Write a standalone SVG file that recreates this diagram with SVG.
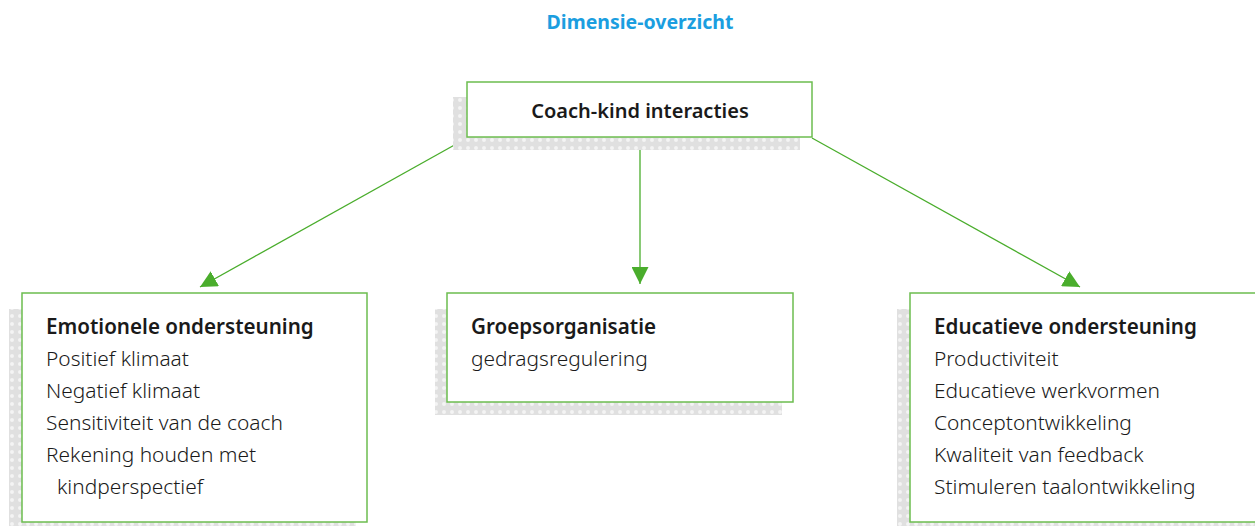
<svg xmlns="http://www.w3.org/2000/svg" width="1255" height="526" viewBox="0 0 1255 526">
  <defs>
    <pattern id="dots" width="8" height="8" patternUnits="userSpaceOnUse">
      <rect width="8" height="8" fill="#e0e0e0"/>
      <circle cx="4" cy="4" r="2" fill="#f4f4f4"/>
    </pattern>
    <marker id="arrow" viewBox="0 0 10 10" refX="10" refY="5" markerWidth="17" markerHeight="17" markerUnits="userSpaceOnUse" orient="auto">
      <path d="M0,0 L10,5 L0,10 z" fill="#4aad2c"/>
    </marker>
  </defs>
  <style>
    .box { fill: #ffffff; stroke: #6cbd4f; stroke-width: 1.5; }
    .shadow { fill: url(#dots); }
    .edge { stroke: #4aad2c; stroke-width: 1.3; fill: none; marker-end: url(#arrow); }
    text { font-family: "Noto Sans", "Open Sans", "DejaVu Sans", sans-serif; font-size: 20.9px; fill: #1a1a1a; }
    .head { font-weight: 600; font-size: 20.6px; }
    .top { font-size: 20px; }
    .item { font-weight: 300; }
    .title { font-weight: 700; fill: #1b9ee0; font-size: 19.5px; }
  </style>

  <rect width="1255" height="526" fill="#ffffff"/>

  <text class="title" x="640" y="29" text-anchor="middle">Dimensie-overzicht</text>

  <g id="connectors">
    <line class="edge" x1="467" y1="138" x2="200" y2="287"/>
    <line class="edge" x1="640" y1="137" x2="640" y2="284"/>
    <line class="edge" x1="812" y1="138" x2="1080" y2="287"/>
  </g>

  <g id="node-coach-kind">
    <rect class="shadow" x="453" y="97" width="347" height="53"/>
    <rect class="box" x="467" y="82" width="345" height="55"/>
    <text class="head top" x="640" y="118" text-anchor="middle">Coach-kind interacties</text>
  </g>

  <g id="node-emotionele">
    <rect class="shadow" x="9" y="309" width="347" height="217"/>
    <rect class="box" x="22" y="293" width="345" height="229"/>
    <text class="head" x="46" y="334">Emotionele ondersteuning</text>
    <text class="item" x="46" y="366">Positief klimaat</text>
    <text class="item" x="46" y="398">Negatief klimaat</text>
    <text class="item" x="46" y="430">Sensitiviteit van de coach</text>
    <text class="item" x="46" y="462">Rekening houden met</text>
    <text class="item" x="57" y="494">kindperspectief</text>
  </g>

  <g id="node-groepsorganisatie">
    <rect class="shadow" x="435" y="309" width="347" height="106"/>
    <rect class="box" x="447" y="293" width="346" height="109"/>
    <text class="head" x="471" y="334">Groepsorganisatie</text>
    <text class="item" x="471" y="366">gedragsregulering</text>
  </g>

  <g id="node-educatieve">
    <rect class="shadow" x="897" y="309" width="358" height="217"/>
    <rect class="box" x="910" y="293" width="350" height="229"/>
    <text class="head" x="934" y="334">Educatieve ondersteuning</text>
    <text class="item" x="934" y="366">Productiviteit</text>
    <text class="item" x="934" y="398">Educatieve werkvormen</text>
    <text class="item" x="934" y="430">Conceptontwikkeling</text>
    <text class="item" x="934" y="462">Kwaliteit van feedback</text>
    <text class="item" x="934" y="494">Stimuleren taalontwikkeling</text>
  </g>
</svg>
